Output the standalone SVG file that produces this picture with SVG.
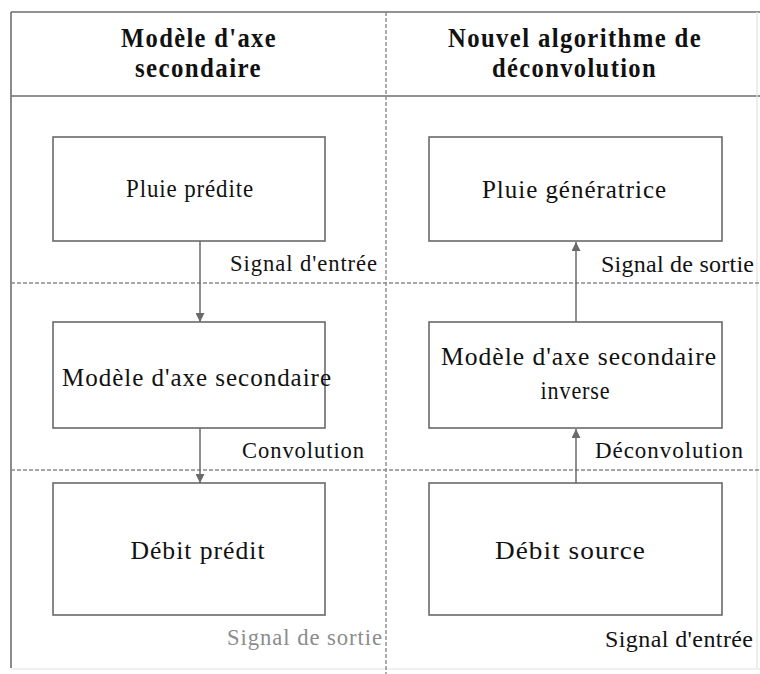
<svg xmlns="http://www.w3.org/2000/svg" width="760" height="674" viewBox="0 0 760 674">
  <style>
    .frame { stroke: #6e6e6e; stroke-width: 1.6; fill: none; }
    .faint { stroke: #e2e2e2; stroke-width: 1.2; fill: none; }
    .grid { stroke: #8a8a8a; stroke-width: 1.4; stroke-dasharray: 4 2; fill: none; }
    .box { fill: #ffffff; stroke: #6a6a6a; stroke-width: 1.6; }
    .link { stroke: #6a6a6a; stroke-width: 1.5; fill: none; }
    .hd { font-family: "Liberation Serif", "Times New Roman", "DejaVu Serif", serif; font-weight: bold; font-size: 27px; letter-spacing: 1.5px; fill: #111; text-anchor: middle; }
    .lbl { font-family: "Liberation Serif", "Times New Roman", "DejaVu Serif", serif; font-size: 24px; letter-spacing: 1px; fill: #111; }
    .tight { letter-spacing: 0; }
    .big { font-size: 26px; }
    .mid { text-anchor: middle; }
    .end { text-anchor: end; }
    .pale { fill: #8c8c8c; }
  </style>
  <defs>
    <marker id="arrow" viewBox="0 0 10 10" refX="10" refY="5" markerWidth="9" markerHeight="9" markerUnits="userSpaceOnUse" orient="auto">
      <path d="M0,0 L10,5 L0,10 z" fill="#6a6a6a"/>
    </marker>
  </defs>

  <rect width="760" height="674" fill="#ffffff"/>

  <!-- table frame -->
  <g id="frame">
    <line class="frame" x1="11" y1="12" x2="760" y2="12"/>
    <line class="frame" x1="11" y1="96" x2="760" y2="96"/>
    <line class="frame" x1="11" y1="12" x2="11" y2="668"/>
    <line class="faint" x1="757" y1="12" x2="757" y2="668"/>
    <line class="faint" x1="11" y1="669" x2="760" y2="669"/>
    <line class="grid" x1="386" y1="12" x2="386" y2="674"/>
    <line class="grid" x1="11" y1="283" x2="760" y2="283"/>
    <line class="grid" x1="11" y1="470" x2="760" y2="470"/>
  </g>

  <!-- column headers -->
  <g id="header-left">
    <text class="hd" x="199" y="47" textLength="156" lengthAdjust="spacingAndGlyphs">Modèle d'axe</text>
    <text class="hd" x="198.5" y="77" textLength="127" lengthAdjust="spacingAndGlyphs">secondaire</text>
  </g>
  <g id="header-right">
    <text class="hd" x="575" y="47" textLength="254" lengthAdjust="spacingAndGlyphs">Nouvel algorithme de</text>
    <text class="hd" x="574.5" y="77" textLength="165" lengthAdjust="spacingAndGlyphs">déconvolution</text>
  </g>

  <!-- connectors -->
  <g id="connectors">
    <line class="link" x1="200" y1="241" x2="200" y2="322" marker-end="url(#arrow)"/>
    <line class="link" x1="200" y1="428" x2="200" y2="483" marker-end="url(#arrow)"/>
    <line class="link" x1="576" y1="483" x2="576" y2="429" marker-end="url(#arrow)"/>
    <line class="link" x1="576" y1="322" x2="576" y2="242" marker-end="url(#arrow)"/>
    <text class="lbl end" x="378" y="271" textLength="148" lengthAdjust="spacingAndGlyphs">Signal d'entrée</text>
    <text class="lbl end" x="365" y="458" textLength="123" lengthAdjust="spacingAndGlyphs">Convolution</text>
    <text class="lbl end pale" x="383" y="645" textLength="156" lengthAdjust="spacingAndGlyphs">Signal de sortie</text>
    <text class="lbl tight" x="601" y="272" textLength="153" lengthAdjust="spacing">Signal de sortie</text>
    <text class="lbl end" x="744" y="458" textLength="149" lengthAdjust="spacingAndGlyphs">Déconvolution</text>
    <text class="lbl tight" x="605" y="647" textLength="148" lengthAdjust="spacing">Signal d'entrée</text>
  </g>

  <!-- left column: forward model -->
  <g id="pluie-predite">
    <rect class="box" x="53" y="137" width="272" height="104"/>
    <text class="lbl big mid" x="190" y="197" textLength="128" lengthAdjust="spacingAndGlyphs">Pluie prédite</text>
  </g>
  <g id="modele-axe">
    <rect class="box" x="53" y="322" width="272" height="106"/>
    <text class="lbl big mid" x="197" y="386" textLength="270" lengthAdjust="spacingAndGlyphs">Modèle d'axe secondaire</text>
  </g>
  <g id="debit-predit">
    <rect class="box" x="53" y="483" width="272" height="132"/>
    <text class="lbl big mid" x="198" y="559" textLength="135" lengthAdjust="spacingAndGlyphs">Débit prédit</text>
  </g>

  <!-- right column: deconvolution -->
  <g id="pluie-generatrice">
    <rect class="box" x="429" y="137" width="293" height="104"/>
    <text class="lbl big mid" x="574.5" y="198" textLength="185" lengthAdjust="spacingAndGlyphs">Pluie génératrice</text>
  </g>
  <g id="modele-inverse">
    <rect class="box" x="429" y="322" width="293" height="106"/>
    <text class="lbl big mid" x="579" y="365" textLength="276" lengthAdjust="spacingAndGlyphs">Modèle d'axe secondaire</text>
    <text class="lbl big mid" x="575.5" y="399" textLength="70" lengthAdjust="spacingAndGlyphs">inverse</text>
  </g>
  <g id="debit-source">
    <rect class="box" x="429" y="483" width="293" height="132"/>
    <text class="lbl big mid" x="570.5" y="559" textLength="151" lengthAdjust="spacingAndGlyphs">Débit source</text>
  </g>
</svg>
